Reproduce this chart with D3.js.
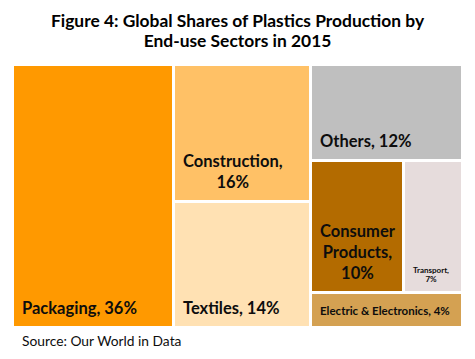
<!DOCTYPE html>
<html>
<head>
<meta charset="utf-8">
<script src="https://cdn.jsdelivr.net/npm/d3@7"></script>
<style>
  body { margin: 0; background: #fff; }
  svg { display: block; font-family: Lato, 'Open Sans', sans-serif; }
  .title { font-weight: bold; font-size: 17.4px; fill: #000; }
  .label { font-weight: bold; fill: #0d0d0d; }
  .source { font-size: 13.8px; fill: #0d0d0d; }
</style>
</head>
<body>
<svg width="475" height="359"></svg>
<script>
  const titleLines = ['Figure 4: Global Shares of Plastics Production by', 'End-use Sectors in 2015'];
  const source = 'Source: Our World in Data';

  const sectors = ['Packaging', 'Construction', 'Textiles', 'Others', 'Consumer Products', 'Transport', 'Electric & Electronics'];
  const shares = [35.8, 15.9, 14.6, 12.3, 10.4, 6.6, 4.5];
  const labels = ['36%', '16%', '14%', '12%', '10%', '7%', '4%'];
  const labelLines = [
    ['Packaging, 36%'],
    ['Construction,', '16%'],
    ['Textiles, 14%'],
    ['Others, 12%'],
    ['Consumer', 'Products,', '10%'],
    ['Transport,', '7%'],
    ['Electric & Electronics, 4%']
  ];
  // how Excel grouped the tiles: three columns, the last one with a split row
  const layout = [['Packaging'], ['Construction', 'Textiles'], ['Others', ['Consumer Products', 'Transport'], 'Electric & Electronics']];

  const colors = ['#ff9900', '#ffc166', '#ffe1b3', '#bfbfbf', '#b36b00', '#e6dcdc', '#d4a152'];

  (function (d3) {
    'use strict';

    const svg = d3.select('svg');
    const margin = { top: 66, right: 14, bottom: 33, left: 14 };
    const width = +svg.attr('width') - margin.left - margin.right;
    const height = +svg.attr('height') - margin.top - margin.bottom;

    const toNode = item => {
      if (Array.isArray(item)) return { children: item.map(toNode) };
      const i = sectors.indexOf(item);
      return { name: item, value: shares[i], label: labels[i], lines: labelLines[i], color: colors[i] };
    };
    const data = { children: layout.map(toNode) };

    const root = d3.hierarchy(data).sum(d => d.value || 0);
    d3.treemap()
      .tile(d3.treemapSliceDice)
      .size([width, height])
      .paddingInner(3)
      .round(true)(root);

    svg.selectAll('.title').data(titleLines)
      .enter().append('text')
        .attr('class', 'title')
        .attr('x', 237.5)
        .attr('y', (d, i) => 27 + i * 20)
        .attr('text-anchor', 'middle')
        .text(d => d);

    const g = svg.append('g')
      .attr('transform', `translate(${margin.left},${margin.top})`);

    const cell = g.selectAll('g').data(root.leaves())
      .enter().append('g')
        .attr('transform', d => `translate(${d.x0},${d.y0})`);

    cell.append('rect')
      .attr('width', d => d.x1 - d.x0)
      .attr('height', d => d.y1 - d.y0)
      .attr('fill', d => d.data.color);

    const fontSize = d => d.data.name === 'Transport' ? 8 : d.data.name === 'Electric & Electronics' ? 11.5 : 16.5;
    const lineHeight = d => d.data.name === 'Transport' ? 9.5 : 21;
    const bottomPad = d => d.data.name === 'Transport' ? 9 : d.data.name === 'Electric & Electronics' ? 11 : 12;

    cell.each(function (d) {
      const c = d3.select(this);
      const h = d.y1 - d.y0;
      const n = d.data.lines.length;
      const t = c.append('text')
        .attr('class', 'label')
        .style('font-size', fontSize(d) + 'px');
      const tspans = t.selectAll('tspan').data(d.data.lines)
        .enter().append('tspan')
          .attr('y', (s, i) => h - bottomPad(d) - (n - 1 - i) * lineHeight(d))
          .text(s => s);
      // multi-line blocks are centred on their widest line, placed 8px from the left
      const widths = [];
      tspans.each(function () { widths.push(this.getComputedTextLength()); });
      const maxW = d3.max(widths);
      tspans.attr('x', (s, i) => 8 + (maxW - widths[i]) / 2);
    });

    svg.append('text')
      .attr('class', 'source')
      .attr('x', 22)
      .attr('y', 346)
      .text(source);

  }(d3));
</script>
</body>
</html>
